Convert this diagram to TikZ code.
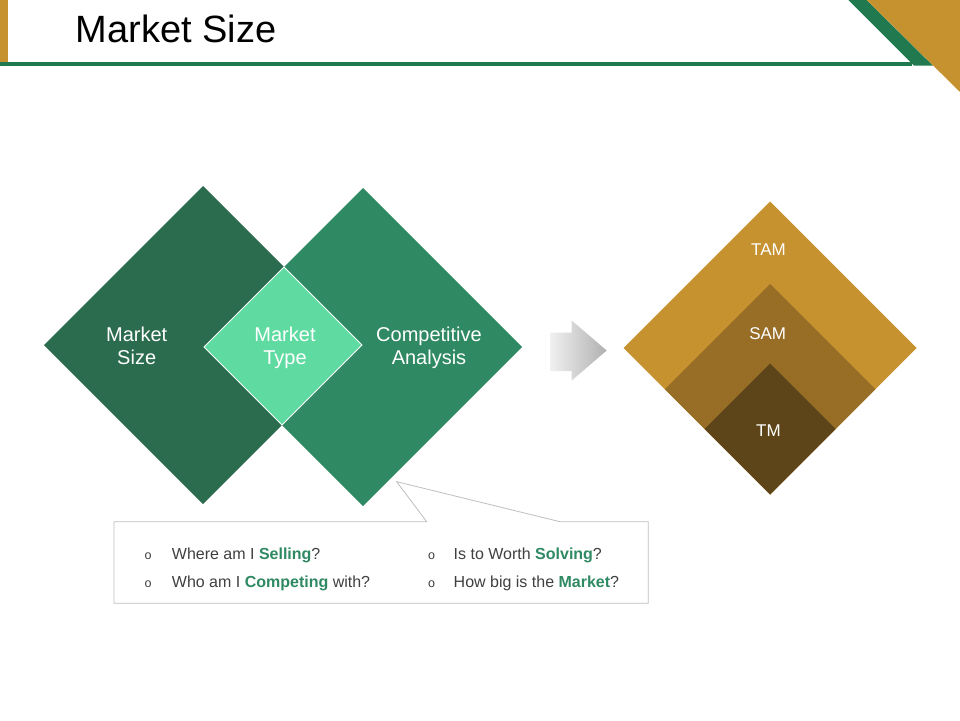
\documentclass[tikz,border=0pt]{standalone}
\usepackage{fontspec}
\setmainfont{Liberation Sans}
\usetikzlibrary{positioning}
\definecolor{darkgreen}{HTML}{2B6B4E}
\definecolor{midgreen}{HTML}{2F8A63}
\definecolor{lightgreen}{HTML}{5FDBA2}
\definecolor{headgreen}{HTML}{217A4F}
\definecolor{gold}{HTML}{C6912F}
\definecolor{bronze}{HTML}{986D25}
\definecolor{darkbronze}{HTML}{5E4519}
\definecolor{textgray}{HTML}{404040}
\definecolor{boxgray}{HTML}{BFBFBF}
\begin{document}
\begin{tikzpicture}[x=1pt,y=-1pt,
        dlabel/.style={text=white,align=center,inner sep=0pt,font=\fontsize{20}{23.3}\selectfont},
        ring/.style={text=white,anchor=base,inner sep=0pt,font=\fontsize{17}{20}\selectfont},
        item/.style={text=textgray,anchor=base west,inner sep=0pt,font=\fontsize{16}{19}\selectfont},
        dot/.style={text=textgray,anchor=base,inner sep=0pt,font=\fontsize{12.5}{14}\selectfont}]
    \useasboundingbox (0,0) rectangle (960,720);

    \fill[gold] (0,0) rectangle (8.3,61.7);
    \fill[headgreen] (0,62.3) rectangle (912,65.7);
    \fill[headgreen] (848.3,0) -- (866.7,0) -- (933,65.7) -- (914,65.7) -- cycle;
    \fill[gold] (866.7,0) -- (960,0) -- (960,92) -- cycle;
    \node[anchor=base west,inner sep=0pt,font=\fontsize{38}{44}\selectfont] (title) at (75.5,42.7) {Market Size};

    \fill[darkgreen] (203,186) -- (362,345) -- (203,504) -- (44,345) -- cycle;
    \fill[midgreen] (363,188) -- (522,347) -- (363,506) -- (204,347) -- cycle;
    \draw[white,fill=lightgreen,line width=0.9pt,line join=miter] (284,267) -- (362,345) -- (282,425) -- (204,347) -- cycle;
    \node[dlabel] (size) at (136.7,346) {Market\\Size};
    \node[dlabel] (type) at (285,348) {Market\\Type};
    \node[dlabel] (comp) at (429,348) {Competitive\\Analysis};

    \shade[left color=gray!12,right color=gray!62] (550.7,332.5) -- (571.7,332.5) -- (571.7,320.5) -- (606.7,350.5) -- (571.7,380.5) -- (571.7,371) -- (550.7,371) -- cycle;

    \fill[gold] (770,201.5) -- (916.5,348) -- (770,494.5) -- (623.5,348) -- cycle;
    \fill[bronze] (770,284) -- (875.25,389.25) -- (770,494.5) -- (664.75,389.25) -- cycle;
    \fill[darkbronze] (770,363.5) -- (835.5,429) -- (770,494.5) -- (704.5,429) -- cycle;
    \node[ring] (tam) at (768.5,255.7) {TAM};
    \node[ring] (sam) at (767.7,339) {SAM};
    \node[ring] (tm) at (768.5,436.7) {TM};

    \draw[boxgray,fill=white,line width=0.8pt] (114,521.7) -- (426.7,521.7) -- (396.7,481.7) -- (560,521.7) -- (648.3,521.7) -- (648.3,603.3) -- (114,603.3) -- cycle;
    \node[dot] (b1) at (148,559.3) {o};
    \node[item] (q1) at (171.7,559.3) {Where am I \textbf{\textcolor{midgreen}{Selling}}?};
    \node[dot] (b2) at (148,587.3) {o};
    \node[item] (q2) at (171.7,587.3) {Who am I \textbf{\textcolor{midgreen}{Competing}} with?};
    \node[dot] (b3) at (431.7,559.3) {o};
    \node[item] (q3) at (453.5,559.3) {Is to Worth \textbf{\textcolor{midgreen}{Solving}}?};
    \node[dot] (b4) at (431.7,587.3) {o};
    \node[item] (q4) at (453.5,587.3) {How big is the \textbf{\textcolor{midgreen}{Market}}?};
\end{tikzpicture}
\end{document}
